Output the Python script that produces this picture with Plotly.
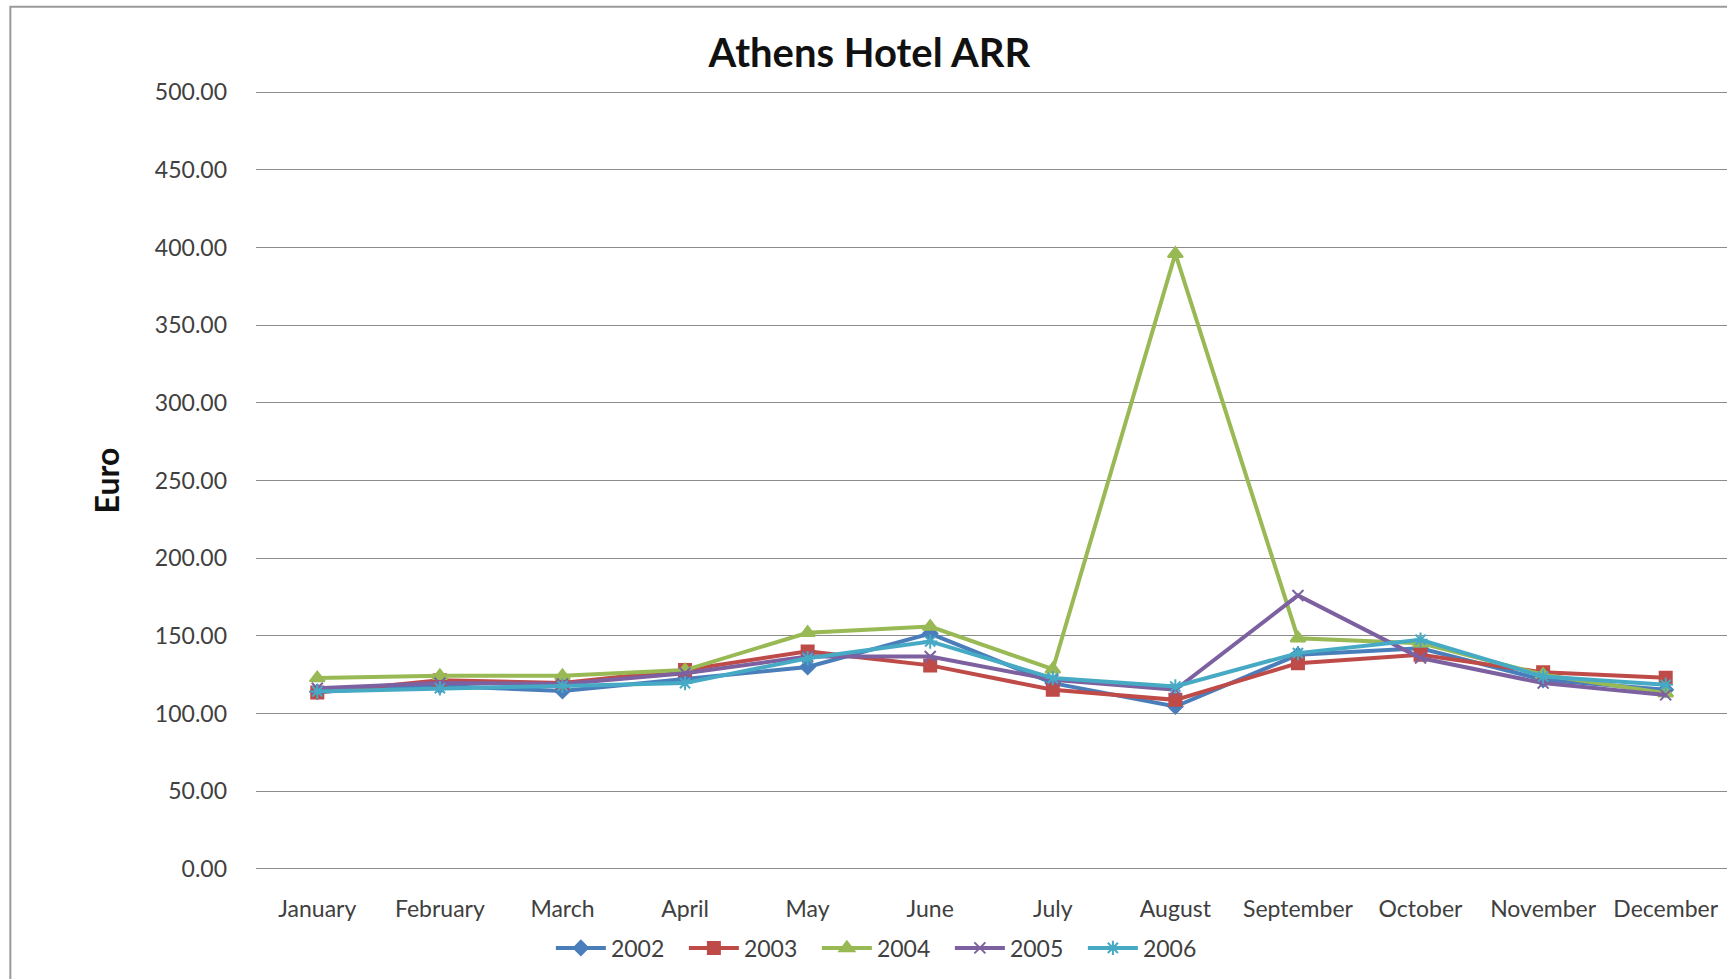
import plotly.graph_objects as go

months = ["January", "February", "March", "April", "May", "June", "July",
          "August", "September", "October", "November", "December"]
y2002 = [114.0, 117.8, 114.5, 122.5, 130.0, 151.5, 119.6, 104.5, 137.8, 142.0, 121.7, 115.3]
y2003 = [113.5, 121.5, 119.6, 128.0, 140.0, 131.0, 115.3, 108.8, 132.4, 137.8, 126.5, 123.0]
y2004 = [122.8, 124.3, 124.3, 128.0, 152.0, 156.0, 128.5, 396.0, 148.5, 145.3, 125.0, 113.1]
y2005 = [116.3, 119.6, 119.0, 126.0, 136.7, 136.7, 121.7, 115.3, 176.0, 135.7, 119.6, 112.0]
y2006 = [114.2, 116.3, 117.8, 119.6, 135.6, 146.4, 122.8, 117.4, 138.9, 147.5, 123.8, 118.5]
series_names = ["2002", "2003", "2004", "2005", "2006"]
tick_vals = [0, 50, 100, 150, 200, 250, 300, 350, 400, 450, 500]

colors = ["#4A7EBB", "#BE4B48", "#98B954", "#7D60A0", "#46AAC5"]
symbols = ["diamond", "square", "triangle-up", "x-thin", "asterisk-open"]
sizes = [11, 12, 13, 11, 12]

fig = go.Figure()
for name, vals, c, s, sz in zip(series_names, [y2002, y2003, y2004, y2005, y2006],
                               colors, symbols, sizes):
    fig.add_trace(go.Scatter(
        x=months, y=vals, name=name, mode="lines+markers",
        line=dict(color=c, width=4),
        marker=dict(symbol=s, size=sz, color=c, line=dict(color=c, width=2)),
    ))

font_family = "Lato, 'Open Sans', sans-serif"
fig.update_layout(
    width=1727, height=979,
    margin=dict(l=256, r=0, t=89, b=107),
    paper_bgcolor="white", plot_bgcolor="white",
    font=dict(family=font_family, color="#404040", size=23),
    title=dict(text="<b>Athens Hotel ARR</b>", x=0.417, xref="paper", xanchor="center",
               y=0.946, yanchor="middle", font=dict(size=40, color="#111111", family=font_family)),
    showlegend=True,
    legend=dict(orientation="h", x=0.4265, xanchor="center", y=-0.097, yanchor="middle",
                font=dict(size=23, color="#404040"), itemwidth=50, tracegroupgap=0,
                entrywidth=68, entrywidthmode="pixels",
                bgcolor="rgba(0,0,0,0)"),
    shapes=[dict(type="rect", xref="paper", yref="paper", x0=-0.167, x1=1.03,
                 y0=-0.17, y1=1.105, line=dict(color="#9a9a9a", width=2))],
)
fig.update_xaxes(range=[-0.5, 11.5], showgrid=False, showline=False, ticks="",
                 tickfont=dict(size=23, color="#404040"), ticklabelstandoff=21)
fig.update_yaxes(range=[-2, 502], tickvals=tick_vals, tickformat=".2f",
                 showgrid=True, gridcolor="#8c8c8c", gridwidth=1, zeroline=False,
                 showline=False, ticks="", ticklabelstandoff=28,
                 tickfont=dict(size=23, color="#404040"),
                 title=dict(text="<b>Euro</b>", font=dict(size=32, color="#111111"), standoff=25))

fig.write_html("out.html", config={"displayModeBar": False},
               post_script="document.body.style.margin='0';document.body.style.overflow='hidden';")
